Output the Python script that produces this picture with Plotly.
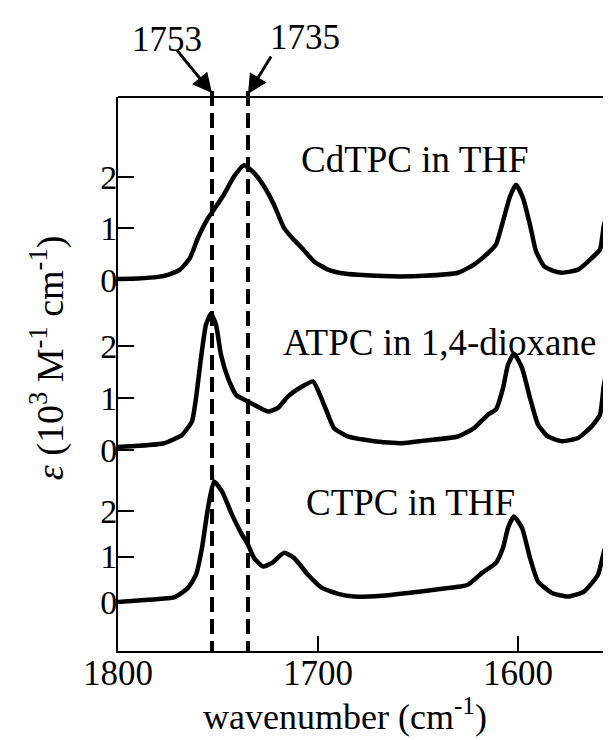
import plotly.graph_objects as go

# ---- data ----
cd_wn = [1800, 1790, 1780, 1775, 1769, 1764, 1760, 1755, 1752, 1747, 1742, 1737, 1732, 1727, 1722,
         1717, 1713, 1708, 1702, 1695, 1688, 1680, 1663, 1647, 1630, 1622, 1615, 1611, 1607.5, 1604,
         1601, 1597.5, 1594, 1591, 1587, 1582, 1578, 1570, 1563, 1559, 1557, 1553, 1549.5, 1547]
cd_eps = [0.02, 0.03, 0.06, 0.10, 0.20, 0.43, 0.82, 1.20, 1.37, 1.66, 2.01, 2.23, 2.08, 1.82, 1.46,
          1.01, 0.82, 0.62, 0.36, 0.20, 0.13, 0.10, 0.07, 0.08, 0.14, 0.30, 0.52, 0.69, 1.14, 1.62,
          1.85, 1.59, 1.07, 0.56, 0.27, 0.17, 0.14, 0.20, 0.43, 0.59, 1.07, 1.53, 2.04, 2.30]

at_wn = [1800, 1790, 1777, 1768, 1763, 1761, 1758.5, 1756, 1753.5, 1751, 1748.5, 1745, 1741, 1737,
         1732, 1725, 1720, 1715, 1708, 1702.5, 1699, 1695, 1692, 1685, 1672, 1658, 1647, 1630, 1622,
         1615, 1611, 1607.5, 1605, 1602, 1598, 1594, 1590, 1585, 1578, 1570, 1563, 1559, 1557, 1553,
         1550, 1548]
at_eps = [0.06, 0.08, 0.13, 0.29, 0.55, 1.00, 1.77, 2.41, 2.62, 2.41, 1.83, 1.38, 1.06, 0.97,
          0.87, 0.74, 0.81, 1.03, 1.22, 1.32, 1.06, 0.68, 0.42, 0.26, 0.17, 0.13, 0.18, 0.26, 0.42,
          0.68, 0.78, 1.19, 1.64, 1.85, 1.58, 1.00, 0.49, 0.26, 0.17, 0.23, 0.46, 0.68, 1.26, 1.96,
          2.41, 2.70]

ct_wn = [1800, 1785, 1772, 1765, 1761, 1758, 1755, 1752, 1748, 1743, 1738, 1735, 1732, 1727.5, 1723,
         1717, 1712, 1705, 1698, 1690, 1682, 1668, 1655, 1638, 1625, 1618, 1611, 1607.5, 1605, 1602,
         1598, 1594, 1590, 1583, 1575, 1567, 1560, 1557, 1553, 1549.5, 1547]
ct_eps = [0.00, 0.05, 0.10, 0.31, 0.60, 1.19, 2.07, 2.65, 2.43, 1.92, 1.48, 1.26, 0.97, 0.78, 0.86,
          1.08, 0.97, 0.60, 0.31, 0.18, 0.12, 0.14, 0.20, 0.29, 0.38, 0.64, 0.86, 1.19, 1.63, 1.88,
          1.63, 0.97, 0.45, 0.20, 0.12, 0.23, 0.60, 1.11, 1.55, 1.99, 2.30]

series_names = ["CdTPC in THF", "ATPC in 1,4-dioxane", "CTPC in THF"]
marked_wn = [1753, 1735]
x_ticks = [1800, 1700, 1600]
y_tick_labels = ["0", "1", "2"]

# ---- presentation (stacking offsets / scales) ----
offsets = [3.27, 0.0, -2.923]
scales = [0.99, 1.0, 0.875]
FONT = "Liberation Serif"
FS = 35

fig = go.Figure()
for wn, eps, off, sc in zip([cd_wn, at_wn, ct_wn], [cd_eps, at_eps, ct_eps], offsets, scales):
    fig.add_trace(go.Scatter(
        x=wn, y=[off + sc * v for v in eps], mode="lines",
        line=dict(color="black", width=4.5, shape="spline", smoothing=0.5),
        showlegend=False, hoverinfo="skip"))

tickvals, ticktext = [], []
for off, sc in zip(offsets, scales):
    for t in y_tick_labels:
        tickvals.append(off + sc * float(t))
        ticktext.append(t)

# dashed marker lines
for w in marked_wn:
    fig.add_shape(type="line", xref="x", yref="paper", x0=w, x1=w, y0=1.011, y1=0,
                  line=dict(color="black", width=4, dash="15px,7px"), layer="above")

# top frame line
fig.add_shape(type="line", xref="paper", yref="paper", x0=0, x1=1, y0=1, y1=1,
              line=dict(color="black", width=2))

# ticks of the neighbouring (cropped) panel at right edge
for yp in [0.529, 0.3845, 0.2527, 0.1264]:
    fig.add_shape(type="line", xref="paper", yref="paper", x0=0.974, x1=1.0, y0=yp, y1=yp,
                  line=dict(color="black", width=1.5))

# arrows + labels for marked wavenumbers
arrows = [(marked_wn[0], 1.007, -36, -44, 1775.5, 1.103),
          (marked_wn[1], 1.0054, 24, -39, 1706.5, 1.1065)]
for w, yh, ax, ay, tx, ty in arrows:
    fig.add_annotation(x=w, y=yh, xref="x", yref="paper", text="", showarrow=True,
                       ax=ax, ay=ay, axref="pixel", ayref="pixel",
                       arrowhead=2, arrowsize=1.3, arrowwidth=3, arrowcolor="black")
    fig.add_annotation(x=tx, y=ty, xref="x", yref="paper", text=str(w), showarrow=False,
                       font=dict(family=FONT, size=FS, color="black"),
                       xanchor="center", yanchor="middle")

# series labels
label_pos = [(1651.5, 0.887), (1639.5, 0.557), (1654, 0.268)]
for name, (lx, ly) in zip(series_names, label_pos):
    fig.add_annotation(x=lx, y=ly, xref="x", yref="paper", text=name, showarrow=False,
                       font=dict(family=FONT, size=37, color="black"),
                       xanchor="center", yanchor="middle")

# axis titles
fig.add_annotation(x=-0.14, y=0.53, xref="paper", yref="paper",
                   text="<i>ε</i> (10<sup>3</sup> M<sup>-1</sup> cm<sup>-1</sup>)",
                   textangle=-90, showarrow=False,
                   font=dict(family=FONT, size=38, color="black"),
                   xanchor="center", yanchor="middle")
fig.add_annotation(x=0.453, y=-0.158, xref="paper", yref="paper",
                   text="wavenumber (cm<sup>-1</sup>)", showarrow=False,
                   font=dict(family=FONT, size=36, color="black"),
                   xanchor="center", yanchor="bottom")

fig.update_xaxes(range=[1800, 1549.5], tickvals=x_ticks, ticks="inside", ticklen=15,
                 tickwidth=1.5, tickcolor="black", showline=True, linewidth=2, linecolor="black",
                 showgrid=False, zeroline=False, ticklabelstandoff=-10,
                 tickfont=dict(family=FONT, size=FS, color="black"))
fig.update_yaxes(range=[-3.865, 6.788], tickvals=tickvals, ticktext=ticktext, ticks="inside",
                 ticklen=16, tickwidth=1.5, tickcolor="black", showline=True, linewidth=2,
                 linecolor="black", showgrid=False, zeroline=False, ticklabelstandoff=-8,
                 tickfont=dict(family=FONT, size=34, color="black"))

fig.update_layout(width=611, height=740, margin=dict(l=110, r=0, t=89, b=97),
                  plot_bgcolor="white", paper_bgcolor="white")

fig.write_html("out.html")
